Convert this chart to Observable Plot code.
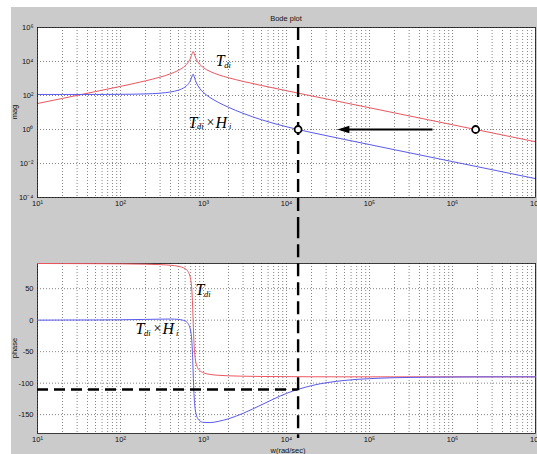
<!DOCTYPE html>
<html><head><meta charset="utf-8">
<script src="https://cdn.jsdelivr.net/npm/d3@7"></script>
<script src="https://cdn.jsdelivr.net/npm/@observablehq/plot@0.6"></script>
<style>
html,body{margin:0;padding:0;background:#fff;width:537px;height:454px;overflow:hidden;font-family:"Liberation Sans",Arial,sans-serif;}
#fig{position:absolute;left:11px;top:7px;width:526px;height:447px;background:#cbcbcb;}
#top,#bot{position:absolute;left:0;}
#top{top:0px}#bot{top:230px}
.lbl{position:absolute;font-size:7.5px;color:#111;white-space:nowrap;line-height:1;}
</style></head><body>
<div id="fig"></div>
<div id="top"></div><div id="bot"></div>
<div class="lbl" style="left:286px;top:15px;transform:translateX(-50%)">Bode plot</div>
<div class="lbl" style="left:15px;top:112px;transform:translate(-50%,-50%) rotate(-90deg)">mag</div>
<div class="lbl" style="left:15px;top:348px;transform:translate(-50%,-50%) rotate(-90deg)">phase</div>
<div class="lbl" style="left:288px;top:447px;transform:translateX(-50%)">w(rad/sec)</div>
<script>
// ---- data ----
const freq = [10,20,50,100,200,300,400,500,600,650,700,730,740,750,760,770,800,850,900,1000,1200,1500,2000,3000,5000,1e4,2e4,5e4,1e5,2e5,5e5,1e6,2e6,5e6,1e7];
const magTdi = [33.8,67.6,170,344,727,1206,1888,3031,5572,8604,16601,29983,36054,39014,36124,30307,17523,9772,6803,4316,2593,1689,1105,676,389,191,95,38,19,9.5,3.8,1.9,0.95,0.38,0.19];
const magTdiHi = [115,115,115,117,124,137,161,207,318,454,814,1411,1675,1788,1635,1354,754,397,261,150,75.6,40,20.2,8.93,3.74,1.45,0.666,0.26,0.13,0.0646,0.0258,0.0129,0.00646,0.00258,0.00129];
const phaseTdi = [90,89.9,89.75,89.5,88.9,88.2,87.2,85.5,81.8,77.3,64.8,39.8,22.5,0,-22.2,-39,-63.3,-75.5,-80,-83.6,-86.2,-87.5,-88.4,-89,-89.4,-89.7,-89.9,-90,-90,-90,-90,-90,-90,-90,-90];
const phaseTdiHi = [0,0.2,0.3,0.6,1.2,1.6,1.8,1.2,-1.4,-5.3,-17.2,-41.9,-59.1,-81.5,-103.6,-120.2,-144.2,-155.9,-159.8,-162.3,-162.7,-160.8,-156.6,-148,-134.4,-116.3,-104,-95.7,-92.9,-91.4,-90.6,-90.3,-90.1,-90,-90];

const decades = [1e1,1e2,1e3,1e4,1e5,1e6,1e7];
const minorMult = [2,3,4,5,6,7,8,9];
const magTicks = [1e-4,1e-2,1e0,1e2,1e4,1e6];
const phaseTicks = [-150,-100,-50,0,50];
const magDomain = [1e-4, 1e6];
const phaseDomain = [-180, 90];
const wDomain = [10, 1e7];

// crossover annotations
const crossW = 13800;          // crossover frequency (dashed vertical line)
const crossPhase = -110;       // phase at crossover (dashed horizontal line)
const markers = [{w: crossW, v: 1}, {w: 1.9e6, v: 1}];
const arrowSeg = [{w1: 5.74e5, w2: 4.6e4, v: 1}];
const arrowTip = [{w: 4.1e4, v: 1}];
const labelsMag = {tdi: {w: 1400, v: 1.1e4}, prod: {w: 659, v: 2.6}};
const labelsPhase = {tdi: {w: 802, v: 48}, prod: {w: 152, v: -14}};

// ---- build ----
const mag = freq.map((w,i) => ({w, a: magTdi[i], b: magTdiHi[i]}));
const ph = freq.map((w,i) => ({w, a: phaseTdi[i], b: phaseTdiHi[i]}));
const xGrid = decades.slice(0,-1).flatMap(d => [d, ...minorMult.map(m => m*d)]).concat([1e7]);
const supMap = {"-":"\u207B","0":"\u2070","1":"\u00B9","2":"\u00B2","3":"\u00B3","4":"\u2074","5":"\u2075","6":"\u2076","7":"\u2077","8":"\u2078","9":"\u2079"};
const pow = d => "10" + String(Math.round(Math.log10(d))).split("").map(c => supMap[c]).join("");

const RED = "#ec5660", BLUE = "#5a5aee";
const gridStyle = {stroke: "#333", strokeDasharray: "1,2", strokeWidth: 0.6};
const dashStyle = {stroke: "black", strokeWidth: 2.4};
const serif = "'Liberation Serif','Times New Roman',serif";

function mathLabel(p, withH) {
  const base = {x: "w", y: "v", textAnchor: "start", fontFamily: serif, fontStyle: "italic", fill: "black"};
  const marks = [
    Plot.text([p], {...base, text: () => "T", fontSize: 16}),
    Plot.text([p], {...base, text: () => "di", fontSize: 8.5, dx: 8.5, dy: 4})
  ];
  if (withH) {
    marks.push(Plot.text([p], {...base, text: () => "\u00D7", fontStyle: "normal", fontSize: 14, dx: 18}));
    marks.push(Plot.text([p], {...base, text: () => "H", fontSize: 16, dx: 27}));
    marks.push(Plot.text([p], {...base, text: () => "i", fontSize: 8.5, dx: 40.5, dy: 4}));
  }
  return marks;
}

const common = {
  width: 537, marginLeft: 37, marginRight: 2,
  style: {background: "transparent", fontFamily: "'Liberation Sans',Arial,sans-serif", overflow: "hidden", color: "#111"}
};

const topPlot = Plot.plot({
  ...common, height: 230, marginTop: 27, marginBottom: 33,
  x: {type: "log", domain: wDomain},
  y: {type: "log", domain: magDomain},
  marks: [
    Plot.frame({fill: "white", stroke: null}),
    Plot.ruleX(xGrid, gridStyle),
    Plot.ruleY(magTicks, gridStyle),
    Plot.axisX(decades, {tickSize: 0, tickPadding: 3, tickFormat: pow, label: null, fontSize: 7.5}),
    Plot.axisY(magTicks, {tickSize: 0, tickPadding: 4, tickFormat: pow, label: null, fontSize: 7.5}),
    Plot.line(mag, {x: "w", y: "a", stroke: RED, strokeWidth: 1, curve: "monotone-x"}),
    Plot.line(mag, {x: "w", y: "b", stroke: BLUE, strokeWidth: 1, curve: "monotone-x"}),
    Plot.frame({stroke: "#111", strokeWidth: 0.8}),
    Plot.ruleX([crossW], {...dashStyle, y1: 1e6, y2: 1e-7, strokeDasharray: "13,6"}),
    Plot.link(arrowSeg, {x1: "w1", x2: "w2", y1: "v", y2: "v", stroke: "black", strokeWidth: 2.2}),
    Plot.vector(arrowTip, {x: "w", y: "v", length: 12, rotate: -90, anchor: "end", shape: "spike", r: 3.8, fill: "black", stroke: "none"}),
    Plot.dot(markers, {x: "w", y: "v", r: 3.5, fill: "white", stroke: "black", strokeWidth: 1.8}),
    ...mathLabel(labelsMag.tdi, false),
    ...mathLabel(labelsMag.prod, true)
  ]
});

const botPlot = Plot.plot({
  ...common, height: 224, marginTop: 33, marginBottom: 21,
  x: {type: "log", domain: wDomain},
  y: {domain: phaseDomain},
  marks: [
    Plot.frame({fill: "white", stroke: null}),
    Plot.ruleX(xGrid, gridStyle),
    Plot.ruleY(phaseTicks, gridStyle),
    Plot.axisX(decades, {tickSize: 0, tickPadding: 3, tickFormat: pow, label: null, fontSize: 7.5}),
    Plot.axisY(phaseTicks, {tickSize: 0, tickPadding: 4, tickFormat: d => String(d), label: null, fontSize: 7.5}),
    Plot.frame({stroke: "#111", strokeWidth: 0.8}),
    Plot.line(ph, {x: "w", y: "a", stroke: RED, strokeWidth: 1, curve: "monotone-x"}),
    Plot.line(ph, {x: "w", y: "b", stroke: BLUE, strokeWidth: 1, curve: "monotone-x"}),
    Plot.ruleX([crossW], {...dashStyle, y1: 150, y2: -188, strokeDasharray: "13,6"}),
    Plot.ruleY([crossPhase], {...dashStyle, x1: 10, x2: crossW, strokeDasharray: "11,6"}),
    ...mathLabel(labelsPhase.tdi, false),
    ...mathLabel(labelsPhase.prod, true)
  ]
});

document.getElementById("top").append(topPlot);
document.getElementById("bot").append(botPlot);
</script>
</body></html>
